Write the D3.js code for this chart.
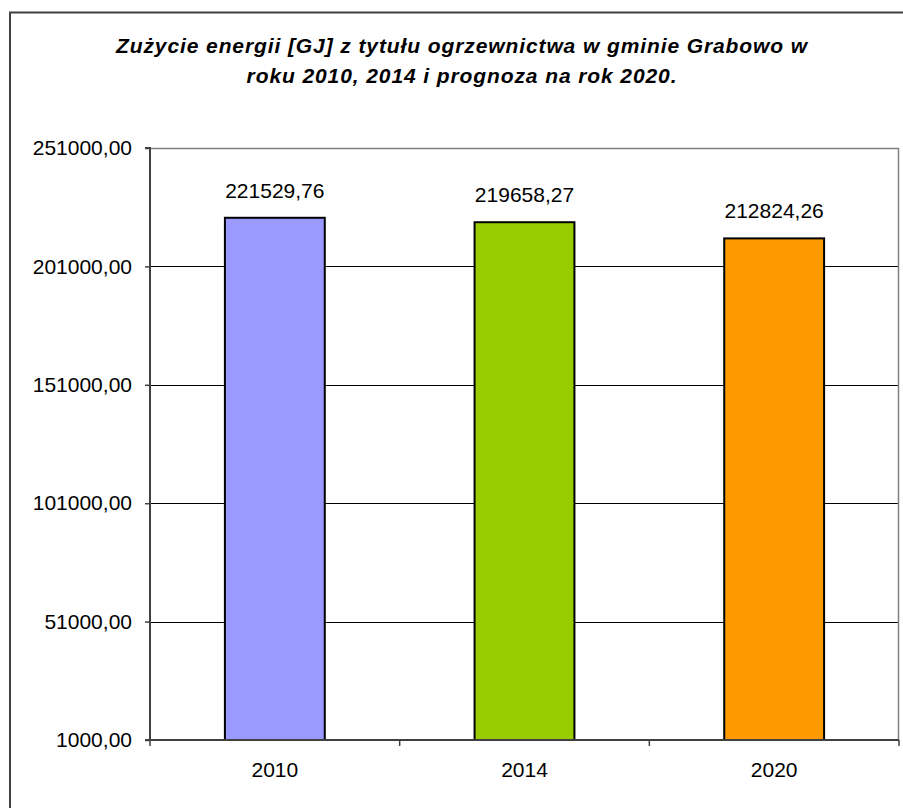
<!DOCTYPE html>
<html>
<head>
<meta charset="utf-8">
<script src="https://cdn.jsdelivr.net/npm/d3@7"></script>
<style>
  body { margin: 0; background: #fff; }
  svg { display: block; }
</style>
</head>
<body>
<div id="chart"></div>
<script>
const years = ['2010', '2014', '2020'];
const values = [221529.76, 219658.27, 212824.26];
const barColors = ['#9999FF', '#99CC00', '#FF9900'];
const yTicks = [1000, 51000, 101000, 151000, 201000, 251000];
const titleLines = ['Zużycie energii [GJ] z tytułu ogrzewnictwa w gminie Grabowo w', 'roku 2010, 2014 i prognoza na rok 2020.'];

const W = 903, H = 808;
const plot = { left: 150, right: 899, top: 148, bottom: 740 };
const font = 'Liberation Sans, Arial, sans-serif';

const fmt = v => d3.format('.2f')(v).replace('.', ',');

const svg = d3.select('#chart').append('svg')
  .attr('width', W)
  .attr('height', H);

// outer chart frame (runs off the right/bottom edge)
svg.append('rect')
  .attr('x', 10).attr('y', 12.5)
  .attr('width', 920).attr('height', 820)
  .attr('fill', 'none')
  .attr('stroke', '#404040')
  .attr('stroke-width', 2);

svg.selectAll('.title')
  .data(titleLines)
  .enter()
  .append('text')
  .attr('x', 462)
  .attr('y', (d, i) => 53 + i * 30)
  .attr('text-anchor', 'middle')
  .style('font-family', font)
  .style('font-size', '21px')
  .style('font-weight', 'bold')
  .style('font-style', 'italic')
  .style('letter-spacing', '0.9px')
  .text(d => d);

const x = d3.scaleBand()
  .domain(years)
  .range([plot.left, plot.right])
  .paddingInner(0.6)
  .paddingOuter(0.3);

const y = d3.scaleLinear()
  .domain([1000, 251000])
  .range([plot.bottom, plot.top]);

// gridlines
svg.selectAll('.grid')
  .data(yTicks.slice(1, -1))
  .enter()
  .append('line')
  .attr('x1', plot.left).attr('x2', plot.right)
  .attr('y1', d => Math.round(y(d)) + 0.5)
  .attr('y2', d => Math.round(y(d)) + 0.5)
  .attr('stroke', '#000')
  .attr('stroke-width', 1);

// plot area border top/right
svg.append('path')
  .attr('d', `M${plot.left},${plot.top + 0.5}H${plot.right - 0.5}V${plot.bottom}`)
  .attr('fill', 'none')
  .attr('stroke', '#808080')
  .attr('stroke-width', 1.5);

// bars
svg.selectAll('.bar')
  .data(values)
  .enter()
  .append('rect')
  .attr('x', (d, i) => x(years[i]))
  .attr('y', d => y(d))
  .attr('width', x.bandwidth())
  .attr('height', d => y(1000) - y(d))
  .attr('fill', (d, i) => barColors[i])
  .attr('stroke', '#000')
  .attr('stroke-width', 2);

// value labels
svg.selectAll('.val')
  .data(values)
  .enter()
  .append('text')
  .attr('x', (d, i) => x(years[i]) + x.bandwidth() / 2)
  .attr('y', d => y(d) - 20)
  .attr('text-anchor', 'middle')
  .style('font-family', font)
  .style('font-size', '21px')
  .text(d => fmt(d));

// y axis
const yAxis = svg.append('g')
  .attr('transform', `translate(${plot.left},0)`)
  .call(d3.axisLeft(y).tickValues(yTicks).tickFormat(fmt).tickSize(5).tickPadding(13));
yAxis.select('.domain').attr('stroke', '#404040').attr('stroke-width', 2).attr('d', `M-5,${plot.top}H0V${plot.bottom}`);
yAxis.selectAll('.tick line').attr('stroke', '#404040').attr('stroke-width', 1.5);
yAxis.selectAll('.tick text').style('font-family', font).style('font-size', '21px').attr('fill', '#000');

// x axis with category boundary ticks
const xAxis = svg.append('g')
  .attr('transform', `translate(0,${plot.bottom})`);
xAxis.append('line')
  .attr('x1', plot.left - 5).attr('x2', plot.right)
  .attr('stroke', '#404040').attr('stroke-width', 2);
const step = x.step();
const bounds = d3.range(years.length + 1).map(i => plot.left + i * step);
xAxis.selectAll('.xtick')
  .data(bounds)
  .enter()
  .append('line')
  .attr('x1', d => d).attr('x2', d => d)
  .attr('y1', 0).attr('y2', 6)
  .attr('stroke', '#404040').attr('stroke-width', 1.5);
xAxis.selectAll('.xlab')
  .data(years)
  .enter()
  .append('text')
  .attr('x', d => x(d) + x.bandwidth() / 2)
  .attr('y', 37)
  .attr('text-anchor', 'middle')
  .style('font-family', font)
  .style('font-size', '21px')
  .text(d => d);
</script>
</body>
</html>
